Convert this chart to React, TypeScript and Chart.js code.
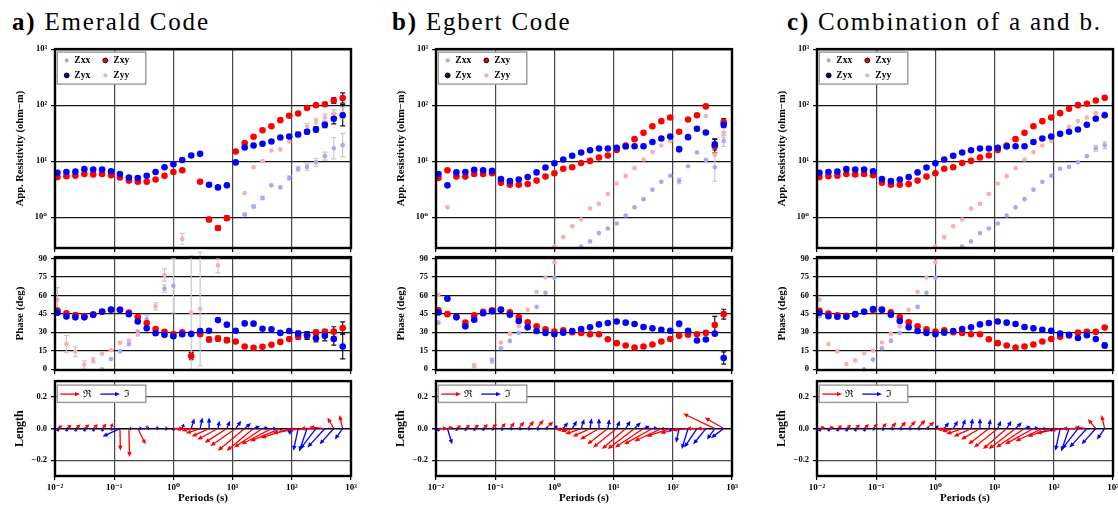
import React, { useEffect, useRef } from 'react';
import { Chart, registerables } from 'chart.js';

Chart.register(...registerables);

const N = null;

// ---------- categories / ticks ----------
const PERIODS = [0.011, 0.0156, 0.0221, 0.0313, 0.0442, 0.0625, 0.0884, 0.125, 0.177, 0.25, 0.354, 0.5, 0.707, 1, 1.41, 2, 2.83, 4, 5.66, 8, 11.3, 16, 22.6, 32, 45.3, 64, 90.5, 128, 181, 256, 362, 512, 724];
const PERIOD_TICKS = [0.01, 0.1, 1, 10, 100, 1000];
const PERIOD_TICK_LABELS = ['10⁻²', '10⁻¹', '10⁰', '10¹', '10²', '10³'];
const RHO_TICKS = [1, 10, 100, 1000];
const RHO_TICK_LABELS = ['10⁰', '10¹', '10²', '10³'];
const PHASE_TICKS = [0, 15, 30, 45, 60, 75, 90];
const PHASE_TICK_LABELS = ['0', '15', '30', '45', '60', '75', '90'];
const LENGTH_TICKS = [-0.2, 0, 0.2];
const LENGTH_TICK_LABELS = ['−0.2', '0.0', '0.2'];
const TITLE_PREFIX = ['a)', 'b)', 'c)'];
const TITLE_TEXT = ['Emerald Code', 'Egbert Code', 'Combination of a and b.'];

// ---------- panel a (Emerald) ----------
const A_RHO_YX = [6.2, 6.4, 6.5, 7.2, 7.1, 7.1, 6.6, 5.9, 5.1, 5.0, 5.5, 6.4, 7.8, 8.8, 10.5, 12.6, 13.5, 3.8, 3.4, 3.7, 9.5, 17.5, 19, 20.4, 22.5, 26.5, 27.5, 30, 33.5, 37, 44.5, 57, 66];
const A_RHO_XY = [5.2, 5.4, 5.5, 5.9, 5.8, 5.9, 5.6, 5.1, 4.5, 4.3, 4.3, 4.7, 5.5, 6.4, 6.9, N, 4.3, 0.91, 0.64, 0.96, 14.9, 21, 27.3, 35.7, 42, 54, 64.6, 71, 89, 100, 104, 121, 134];
const A_RHO_XX = [N, N, N, N, N, N, N, N, N, N, N, N, N, N, N, N, N, N, N, N, N, 1.12, 1.55, 2.2, 3.7, 3.4, 5.0, 7.3, 7.9, 9.6, 12.3, 17, 19.3];
const A_RHO_YY = [N, N, N, N, N, N, N, N, N, N, N, N, N, N, 0.41, N, N, N, N, N, N, 2.7, 7.8, 10, 15.5, 16.2, 22.5, 30, 41, 52, 60, 71, 72];
const A_RHO_ERR_YX = [N, N, N, N, N, N, N, N, N, N, N, N, N, N, N, N, N, N, N, N, N, N, N, N, N, N, N, 0.03, 0.04, 0.05, 0.05, 0.09, 0.19];
const A_RHO_ERR_XY = [N, N, N, N, N, N, N, N, N, N, N, N, N, N, N, N, N, 0.04, 0.04, 0.04, N, N, N, N, N, N, N, N, N, 0.02, 0.03, 0.05, 0.09];
const A_RHO_ERR_XX = [N, N, N, N, N, N, N, N, N, N, N, N, N, N, N, N, N, N, N, N, N, 0.02, 0.03, 0.03, N, N, 0.04, 0.04, 0.06, 0.07, 0.07, 0.19, 0.21];
const A_RHO_ERR_YY = [N, N, N, N, N, N, N, N, N, N, N, N, N, N, 0.1, N, N, N, N, N, N, N, N, N, N, N, N, 0.05, 0.06, 0.05, 0.06, 0.07, 0.1];
const A_PHI_XY = [47.7, 45.5, 43.9, 43.1, 44.5, 46.5, 48.2, 48.2, 46.1, 42.3, 37.5, 32.7, 30.3, 28.5, 30.0, 10.7, 28.4, 24.1, 24.9, 23.6, 22.5, 18.5, 17.4, 18.2, 19.8, 22.2, 24.6, 26.3, 27.3, 29.7, 30.3, 30.5, 33.5];
const A_PHI_YX = [45.8, 42.9, 42.1, 42.1, 44.2, 46.9, 48.5, 48.2, 44.7, 38.8, 33.2, 29.2, 27.9, 26.8, 28.4, 28.7, 31.1, 31.3, 39.9, 36.2, 31.3, 37.2, 37.0, 32.9, 32.4, 29.5, 31.1, 28.9, 27.6, 25.2, 27.1, 24.6, 18.5];
const A_PHI_XX = [N, N, N, N, N, 0, 8.3, 14.5, 20.4, 30.5, 40.7, N, 65.4, 67.8, N, N, N, N, N, N, N, N, N, N, N, N, N, N, N, N, N, N, N];
const A_PHI_YY = [56.3, 20.4, 14.2, 3.8, 7.2, 12.6, 15.5, 21.4, 23.3, 28, N, 51, 76.5, N, N, 46, 49, N, 84.4, N, N, N, N, N, N, N, N, N, N, N, N, N, N];
const A_PHI_ERR_YX = [N, N, N, N, N, N, N, N, N, N, N, N, N, N, N, N, N, N, N, N, N, N, N, N, N, N, N, 2, 3, 3, 4, 5, 10];
const A_PHI_ERR_XY = [N, N, N, N, N, N, N, N, N, N, N, N, N, N, N, 3, N, 2, 2, 2, N, N, N, N, N, N, N, 2, 3, 2, 2, 4, 5];
const A_PHI_ERR_XX = [N, N, N, N, N, N, N, N, N, N, 3, N, 3, 22, N, N, N, N, N, N, N, N, N, N, N, N, N, N, N, N, N, N, N];
const A_PHI_ERR_YY = [10, 7, 4, 3, 2, N, N, N, N, N, N, 3, 5, N, N, 46, 46, N, 6, N, N, N, N, N, N, N, N, N, N, N, N, N, N];
const A_TRE_X = [0.032, 0.032, 0.032, 0.032, 0.03, 0.028, 0.01, 0.003, 0.004, 0.05, 0.004, 0.02, 0.02, 0.07, -0.03, -0.06, -0.09, -0.11, -0.13, -0.14, -0.16, -0.17, -0.17, -0.18, -0.19, -0.19, -0.18, -0.16, -0.12, -0.1, -0.1, -0.04, -0.02];
const A_TRE_Y = [0.02, 0.022, 0.024, 0.025, 0.027, 0.03, 0.035, -0.14, -0.18, -0.1, 0.02, 0.01, 0.005, 0, -0.01, -0.015, -0.03, -0.05, -0.07, -0.09, -0.11, -0.14, -0.14, -0.12, -0.1, -0.08, -0.06, -0.03, -0.01, 0, 0.01, 0.07, 0.085];
const A_TIM_X = [0.005, 0.005, 0.005, 0.005, 0.005, 0.005, 0.01, -0.11, 0.02, 0.03, 0.02, 0.02, 0.02, 0, 0.01, 0.02, 0.015, 0, 0.01, 0.02, 0.035, 0.04, 0.04, 0.035, 0.03, 0.01, 0.005, -0.03, -0.05, -0.1, -0.11, -0.09, -0.05];
const A_TIM_Y = [-0.02, -0.02, -0.02, -0.02, -0.02, -0.02, -0.01, -0.05, 0, 0, 0, 0, -0.005, -0.015, 0.03, 0.065, 0.07, 0.07, 0.05, 0.05, 0.05, 0.035, 0.015, 0.005, 0, -0.01, -0.04, -0.14, -0.145, -0.13, -0.12, -0.1, -0.07];

// ---------- panel b (Egbert) ----------
const B_RHO_YX = [5.9, 3.7, 6.3, 6.4, 7.0, 6.9, 6.7, 4.8, 4.4, 4.7, 5.2, 6.3, 7.7, 9.2, 10.7, 12.5, 14.3, 15.7, 16.8, 16.8, 17.3, 18.3, 18.5, 18.5, 22, 25.4, 27.6, 16.4, 26.8, 37.8, 32.5, 19.9, 44.6];
const B_RHO_XY = [5.0, 6.9, 5.3, 5.3, 5.9, 5.9, 6.1, 4.1, 3.8, 3.8, 3.9, 4.5, 5.3, 6.1, 7.3, 7.8, 9.3, 10.1, 11.6, 12.6, 15.9, 19, 24.7, 32, 42, 51.8, 60, 33.4, 55.5, 66, 95, 18.5, 50];
const B_RHO_XX = [N, N, N, N, N, N, N, N, N, N, N, N, N, N, N, N, 0.30, 0.37, 0.52, 0.63, 0.77, 1.07, 1.5, 2.1, 3.1, 4.3, 5.5, 4.45, 8.1, 14.3, 10.5, 7.8, 23];
const B_RHO_YY = [N, 1.5, N, N, N, N, N, N, N, N, N, N, N, 0.30, 0.44, 0.69, 0.91, 1.43, 1.73, 2.6, 4.0, 5.4, 7.5, 10.7, 14.5, 19, 23, 15, 28, N, 64, 13, 32];
const B_RHO_ERR_YX = [N, N, N, N, N, N, N, N, N, N, N, N, N, N, N, N, N, N, N, N, N, N, N, N, N, N, N, N, N, N, N, 0.1, 0.05];
const B_RHO_ERR_XY = [N, N, N, N, N, N, N, N, N, N, N, N, N, N, N, N, N, N, N, N, N, N, N, N, N, N, N, N, N, N, N, 0.12, 0.06];
const B_RHO_ERR_XX = [N, N, N, N, N, N, N, N, N, N, N, N, N, N, N, N, N, N, N, N, N, N, N, N, N, N, N, 0.05, N, N, N, 0.25, 0.1];
const B_RHO_ERR_YY = [N, N, N, N, N, N, N, N, N, N, N, N, N, N, N, N, N, N, N, N, N, N, N, N, N, N, N, N, N, N, N, N, 0.08];
const B_PHI_XY = [47.9, 44.7, 42.6, 37.8, 43.7, 46.6, 47.9, 48.5, 46.3, 42.3, 38.0, 34.8, 32.4, 30.5, 31.6, 30.0, 29.5, 28.4, 28.4, 24.4, 21.2, 19.3, 17.7, 18.5, 20.1, 22.5, 24.6, 27.1, 28.1, 28.4, 29.5, 35.9, 44.7];
const B_PHI_YX = [46.1, 57.3, 42.1, 34.8, 40.2, 45.5, 47.1, 48.2, 44.2, 39.1, 34.0, 31.1, 29.5, 28.4, 29.7, 31.1, 32.7, 34.0, 36.4, 37.5, 38.8, 37.8, 36.7, 34.3, 33.2, 32.1, 31.3, 37.0, 31.3, 23.3, 24.1, 28.9, 9.1];
const B_PHI_XX = [37.8, N, N, N, N, N, 7, 17.1, 23.0, 29.5, N, 50.6, 62.1, 74.2, N, N, N, N, N, N, N, N, N, N, N, N, N, 35, N, N, N, N, N];
const B_PHI_YY = [60.5, N, N, N, 2.9, N, N, 21.7, 28.9, 34.8, 48.2, 62.7, 74.5, 86.8, N, N, N, N, N, N, N, N, N, N, N, N, N, 35, N, N, N, N, N];
const B_PHI_ERR_YX = [N, N, N, N, N, N, N, N, N, N, N, N, N, N, N, N, N, N, N, N, N, N, N, N, N, N, N, N, N, N, N, N, 5];
const B_PHI_ERR_XY = [N, N, N, N, N, N, N, N, N, N, N, N, N, N, N, N, N, N, N, N, N, N, N, N, N, N, N, N, N, N, N, 7, 4];
const B_PHI_ERR_XX = [N, N, N, N, N, N, 2, N, N, N, N, N, N, N, N, N, N, N, N, N, N, N, N, N, N, N, N, N, N, N, N, N, N];
const B_PHI_ERR_YY = [N, N, N, N, 1.5, N, N, N, N, N, N, N, N, N, N, N, N, N, N, N, N, N, N, N, N, N, N, N, N, N, N, N, N];
const B_TRE_X = [0.06, 0.035, 0.03, 0.03, 0.03, 0.03, 0.03, 0.03, 0.03, 0.035, 0.04, 0.045, 0.05, 0.08, -0.04, -0.07, -0.1, -0.11, -0.12, -0.13, -0.15, -0.15, -0.17, -0.18, -0.18, -0.17, -0.15, -0.12, -0.1, -0.07, -0.06, -0.2, -0.12];
const B_TRE_Y = [0, 0.01, 0.02, 0.022, 0.024, 0.027, 0.03, 0.035, 0.04, 0.045, 0.05, 0.055, 0.045, -0.01, -0.01, -0.02, -0.035, -0.05, -0.07, -0.1, -0.12, -0.13, -0.13, -0.12, -0.1, -0.08, -0.05, -0.03, -0.01, 0, 0, 0.095, 0.07];
const B_TIM_X = [0, 0.03, 0.005, 0.005, 0.005, 0.005, 0.01, 0.015, 0.02, 0.02, 0.02, 0.02, 0.02, 0.02, 0.03, 0.03, 0.02, 0.01, 0, 0.01, 0.02, 0.03, 0.04, 0.04, 0.03, 0.02, 0.005, -0.02, -0.04, -0.08, -0.08, -0.05, -0.08];
const B_TIM_Y = [-0.02, -0.1, -0.015, -0.015, -0.015, -0.015, -0.01, -0.01, -0.005, -0.005, -0.005, -0.005, 0, 0.02, 0.04, 0.05, 0.06, 0.065, 0.065, 0.06, 0.05, 0.05, 0.04, 0.015, 0.005, 0, -0.02, -0.09, -0.13, -0.12, -0.1, -0.07, -0.06];

// ---------- panel c (combination) ----------
const C_RHO_YX = [6.2, 6.4, 6.5, 7.2, 7.1, 7.1, 6.6, 4.8, 4.4, 4.7, 5.2, 6.3, 7.7, 9.2, 10.7, 12.5, 14.3, 15.7, 16.8, 16.8, 17.3, 18.3, 18.5, 18.5, 22, 25.4, 27.6, 30.7, 33.4, 36.8, 44.6, 57, 66];
const C_RHO_XY = [5.2, 5.4, 5.5, 5.9, 5.8, 5.9, 5.6, 4.1, 3.8, 3.8, 3.9, 4.5, 5.3, 6.1, 7.3, 7.8, 9.3, 10.1, 11.6, 12.6, 15.9, 19, 24.7, 32, 42, 51.8, 60, 72, 86, 100, 106, 121, 135];
const C_RHO_XX = [N, N, N, N, N, N, N, N, N, N, N, N, N, N, N, N, 0.30, 0.37, 0.52, 0.63, 0.77, 1.07, 1.5, 2.1, 3.1, 4.3, 5.5, 7.3, 7.9, 9.6, 12.3, 17, 19.3];
const C_RHO_YY = [N, N, N, N, N, N, N, N, N, N, N, N, N, 0.30, 0.44, 0.69, 0.91, 1.43, 1.73, 2.6, 4.0, 5.4, 7.5, 10.7, 14.5, 19, 23, 30, 41, 52, 60, 72, 72];
const C_RHO_ERR_XX = [N, N, N, N, N, N, N, N, N, N, N, N, N, N, N, N, N, N, N, N, N, N, N, N, N, N, N, N, N, N, N, 0.05, 0.06];
const C_PHI_XY = [47.4, 45.3, 43.7, 43.4, 44.5, 46.6, 48.0, 48.5, 46.3, 42.3, 38.0, 34.8, 32.4, 30.5, 31.6, 30.0, 29.5, 28.4, 28.4, 24.4, 21.2, 19.3, 17.7, 18.5, 20.1, 22.5, 24.6, 26.3, 27.3, 29.7, 30.3, 30.3, 33.8];
const C_PHI_YX = [45.8, 43.1, 42.6, 42.6, 44.7, 46.6, 48.8, 48.2, 44.2, 39.1, 34.0, 31.1, 29.5, 28.4, 29.7, 31.1, 32.7, 34.0, 36.4, 37.5, 38.8, 37.8, 36.7, 34.3, 33.2, 32.1, 31.3, 28.9, 27.9, 25.4, 27.6, 24.6, 19.3];
const C_PHI_XX = [43, N, N, N, N, 0, 7.8, 17.1, 23, 29.5, N, 50.6, 62.1, 74.2, N, N, N, N, N, N, N, N, N, N, N, N, N, N, N, N, N, N, N];
const C_PHI_YY = [56.5, 20.4, 14.5, 4.3, 7.2, 13.1, 15, 21.7, 28.9, 34.8, 48.2, 62.7, 74.5, 86.8, N, N, N, N, N, N, N, N, N, N, N, N, N, N, N, N, N, N, N];
const C_PHI_ERR_YX = [N, N, N, N, N, N, N, N, N, N, N, N, N, N, N, N, N, N, N, N, N, N, N, N, N, N, N, N, N, N, N, N, 2];
const C_TRE_X = [0.035, 0.035, 0.03, 0.03, 0.03, 0.03, 0.03, 0.03, 0.035, 0.04, 0.045, 0.05, 0.05, 0.08, -0.04, -0.07, -0.1, -0.11, -0.12, -0.13, -0.15, -0.15, -0.17, -0.18, -0.18, -0.17, -0.15, -0.15, -0.12, -0.1, -0.08, -0.05, -0.02];
const C_TRE_Y = [0.01, 0.01, 0.02, 0.022, 0.024, 0.027, 0.03, 0.035, 0.04, 0.045, 0.05, 0.055, 0.045, -0.01, -0.01, -0.02, -0.035, -0.05, -0.07, -0.1, -0.12, -0.13, -0.13, -0.12, -0.1, -0.08, -0.05, -0.03, -0.01, 0, 0.01, 0.06, 0.085];
const C_TIM_X = [0.005, 0.005, 0.005, 0.005, 0.005, 0.005, 0.01, 0.015, 0.02, 0.02, 0.02, 0.02, 0.02, 0.02, 0.03, 0.03, 0.02, 0.01, 0, 0.01, 0.02, 0.03, 0.04, 0.04, 0.03, 0.02, 0.005, -0.03, -0.05, -0.1, -0.11, -0.09, -0.05];
const C_TIM_Y = [-0.02, -0.02, -0.02, -0.02, -0.02, -0.02, -0.01, -0.01, -0.005, -0.005, -0.005, -0.005, 0, 0.02, 0.04, 0.05, 0.06, 0.065, 0.065, 0.06, 0.05, 0.05, 0.04, 0.015, 0.005, 0, -0.02, -0.14, -0.145, -0.13, -0.12, -0.1, -0.07];

// ---------- layout / style ----------
const SERIF = "'Liberation Serif', 'DejaVu Serif', serif";
const COL_LEFT = [55, 436, 817];
const TITLE_X = [12, 392, 787];
const PLOT_W = 296;
const AXIS_W = 55;
const PAD_T = 8;
const PAD_R = 12;
const ROWS: any = {
  rho: { top: 48, h: 200, xh: 10 },
  phi: { top: 256, h: 114, xh: 10 },
  tip: { top: 380, h: 96, xh: 30 },
};
const COL = { xx: '#a6a6ff', xy: '#ff0000', yx: '#0000ff', yy: '#ffacac' };

const PANELS = [
  {
    rho: { xx: A_RHO_XX, xy: A_RHO_XY, yx: A_RHO_YX, yy: A_RHO_YY },
    rhoErr: { xx: A_RHO_ERR_XX, xy: A_RHO_ERR_XY, yx: A_RHO_ERR_YX, yy: A_RHO_ERR_YY },
    phi: { xx: A_PHI_XX, xy: A_PHI_XY, yx: A_PHI_YX, yy: A_PHI_YY },
    phiErr: { xx: A_PHI_ERR_XX, xy: A_PHI_ERR_XY, yx: A_PHI_ERR_YX, yy: A_PHI_ERR_YY },
    tip: { rx: A_TRE_X, ry: A_TRE_Y, ix: A_TIM_X, iy: A_TIM_Y },
  },
  {
    rho: { xx: B_RHO_XX, xy: B_RHO_XY, yx: B_RHO_YX, yy: B_RHO_YY },
    rhoErr: { xx: B_RHO_ERR_XX, xy: B_RHO_ERR_XY, yx: B_RHO_ERR_YX, yy: B_RHO_ERR_YY },
    phi: { xx: B_PHI_XX, xy: B_PHI_XY, yx: B_PHI_YX, yy: B_PHI_YY },
    phiErr: { xx: B_PHI_ERR_XX, xy: B_PHI_ERR_XY, yx: B_PHI_ERR_YX, yy: B_PHI_ERR_YY },
    tip: { rx: B_TRE_X, ry: B_TRE_Y, ix: B_TIM_X, iy: B_TIM_Y },
  },
  {
    rho: { xx: C_RHO_XX, xy: C_RHO_XY, yx: C_RHO_YX, yy: C_RHO_YY },
    rhoErr: { xx: C_RHO_ERR_XX, xy: undefined, yx: undefined, yy: undefined },
    phi: { xx: C_PHI_XX, xy: C_PHI_XY, yx: C_PHI_YX, yy: C_PHI_YY },
    phiErr: { xx: undefined, xy: undefined, yx: C_PHI_ERR_YX, yy: undefined },
    tip: { rx: C_TRE_X, ry: C_TRE_Y, ix: C_TIM_X, iy: C_TIM_Y },
  },
];

function pts(vals: (number | null)[]) {
  return PERIODS.map((p, i) => ({ x: p, y: vals[i] }));
}

function drawArrow(ctx: CanvasRenderingContext2D, x0: number, y0: number, x1: number, y1: number, color: string) {
  const len = Math.hypot(x1 - x0, y1 - y0);
  if (len < 0.5) return;
  const c = (x1 - x0) / len;
  const s = (y1 - y0) / len;
  const hl = Math.min(5, len * 0.6);
  const hw = 2.2;
  ctx.strokeStyle = color;
  ctx.fillStyle = color;
  ctx.lineWidth = 1.3;
  ctx.beginPath();
  ctx.moveTo(x0, y0);
  ctx.lineTo(x1 - c * hl * 0.8, y1 - s * hl * 0.8);
  ctx.stroke();
  ctx.beginPath();
  ctx.moveTo(x1, y1);
  ctx.lineTo(x1 - c * hl - s * hw, y1 - s * hl + c * hw);
  ctx.lineTo(x1 - c * hl + s * hw, y1 - s * hl - c * hw);
  ctx.closePath();
  ctx.fill();
}

function dot(ctx: CanvasRenderingContext2D, x: number, y: number, r: number, fill: string, stroke?: string) {
  ctx.beginPath();
  ctx.arc(x, y, r, 0, Math.PI * 2);
  ctx.fillStyle = fill;
  ctx.fill();
  if (stroke) {
    ctx.lineWidth = 1;
    ctx.strokeStyle = stroke;
    ctx.stroke();
  }
}

const framePlugin = {
  id: 'frame',
  beforeDatasetsDraw(chart: any) {
    const { ctx } = chart;
    const x = chart.scales.x;
    const y = chart.scales.y;
    chart.data.datasets.forEach((ds: any) => {
      if (!ds.errs) return;
      ctx.save();
      ctx.strokeStyle = ds.errColor;
      ctx.lineWidth = 1.2;
      ds.data.forEach((pt: any, i: number) => {
        const e = ds.errs[i];
        if (pt.y == null || e == null) return;
        const px = x.getPixelForValue(pt.x);
        const lo = ds.errLog ? pt.y / Math.pow(10, e) : pt.y - e;
        const hi = ds.errLog ? pt.y * Math.pow(10, e) : pt.y + e;
        const y1 = y.getPixelForValue(lo);
        const y2 = y.getPixelForValue(hi);
        ctx.beginPath();
        ctx.moveTo(px, y1); ctx.lineTo(px, y2);
        ctx.moveTo(px - 2.5, y1); ctx.lineTo(px + 2.5, y1);
        ctx.moveTo(px - 2.5, y2); ctx.lineTo(px + 2.5, y2);
        ctx.stroke();
      });
      ctx.restore();
    });
  },
  afterDatasetsDraw(chart: any) {
    const { ctx } = chart;
    const x = chart.scales.x;
    const y = chart.scales.y;
    const ppu = y.getPixelForValue(0) - y.getPixelForValue(1);
    chart.data.datasets.forEach((ds: any) => {
      if (!ds.vx) return;
      ctx.save();
      ds.data.forEach((pt: any, i: number) => {
        const x0 = x.getPixelForValue(pt.x);
        const y0 = y.getPixelForValue(pt.y);
        const x1 = x0 + ds.vx[i] * ppu;
        const y1 = y.getPixelForValue(pt.y + ds.vy[i]);
        drawArrow(ctx, x0, y0, x1, y1, ds.arrowColor);
      });
      ctx.restore();
    });
  },
  afterDraw(chart: any) {
    const { ctx, chartArea: a } = chart;
    const o = chart.options.plugins.frame || {};
    ctx.save();
    ctx.strokeStyle = '#000';
    ctx.lineWidth = 2.4;
    ctx.strokeRect(a.left, a.top, a.right - a.left, a.bottom - a.top);
    if (o.legend === 'mt') {
      const bx = a.left + 2.3, by = a.top + 3;
      ctx.fillStyle = '#fff';
      ctx.fillRect(bx, by, 88.5, 32);
      ctx.strokeStyle = '#9a9a9a';
      ctx.lineWidth = 1.4;
      ctx.strokeRect(bx, by, 88.5, 32);
      ctx.font = `bold 9.5px ${SERIF}`;
      ctx.textBaseline = 'middle';
      ctx.textAlign = 'left';
      dot(ctx, bx + 9.4, by + 8.3, 2.1, COL.xx);
      dot(ctx, bx + 48, by + 8.3, 2.4, COL.xy, '#000');
      dot(ctx, bx + 9.4, by + 23.3, 2.4, '#0000a0', '#000');
      dot(ctx, bx + 48, by + 23.3, 2.1, COL.yy);
      ctx.fillStyle = '#000';
      ctx.fillText('Zxx', bx + 17, by + 8.8);
      ctx.fillText('Zxy', bx + 56, by + 8.8);
      ctx.fillText('Zyx', bx + 17, by + 23.8);
      ctx.fillText('Zyy', bx + 56, by + 23.8);
    } else if (o.legend === 'tip') {
      const bx = a.left + 2.3, by = a.top + 4;
      ctx.fillStyle = '#fff';
      ctx.fillRect(bx, by, 88.5, 17.3);
      ctx.strokeStyle = '#9a9a9a';
      ctx.lineWidth = 1.4;
      ctx.strokeRect(bx, by, 88.5, 17.3);
      drawArrow(ctx, bx + 3, by + 9, bx + 22.7, by + 9, '#ff0000');
      drawArrow(ctx, bx + 43, by + 9, bx + 62.7, by + 9, '#0000ff');
      ctx.fillStyle = '#000';
      ctx.font = `10px 'DejaVu Serif', serif`;
      ctx.textBaseline = 'middle';
      ctx.textAlign = 'left';
      ctx.fillText('ℜ', bx + 26, by + 9.5);
      ctx.fillText('ℑ', bx + 67, by + 9.5);
    }
    if (o.yTitle) {
      ctx.save();
      ctx.translate(a.left - 35, (a.top + a.bottom) / 2);
      ctx.rotate(-Math.PI / 2);
      ctx.fillStyle = '#000';
      ctx.font = o.yTitleFont;
      ctx.textAlign = 'center';
      ctx.textBaseline = 'middle';
      ctx.fillText(o.yTitle, 0, 0);
      ctx.restore();
    }
    if (o.xTitle) {
      ctx.fillStyle = '#000';
      ctx.font = `bold 11px ${SERIF}`;
      ctx.textAlign = 'center';
      ctx.textBaseline = 'middle';
      ctx.fillText(o.xTitle, (a.left + a.right) / 2, a.bottom + 22.3);
    }
    ctx.restore();
  },
};

const tickFont = { family: SERIF, size: 8.5, weight: 'bold' as const };

function xAxis(showLabels: boolean, xh: number) {
  return {
    type: 'logarithmic',
    position: 'bottom',
    min: 0.01,
    max: 1000,
    afterBuildTicks: (s: any) => { s.ticks = PERIOD_TICKS.map((v) => ({ value: v })); },
    afterFit: (s: any) => { s.height = xh; },
    ticks: {
      display: showLabels,
      autoSkip: false,
      maxRotation: 0,
      padding: 2,
      color: '#000',
      font: { family: SERIF, size: 9, weight: 'bold' as const },
      callback: (_v: any, i: number) => PERIOD_TICK_LABELS[i],
    },
    grid: { color: '#474747', lineWidth: 1.2, drawTicks: true, tickLength: 4, tickColor: '#000' },
    border: { display: false },
  };
}

function yAxisBase() {
  return {
    afterFit: (s: any) => { s.width = AXIS_W; },
    border: { display: false },
  };
}

function mtDatasets(v: any, e: any, errLog: boolean) {
  return [
    { label: 'Zyx', data: pts(v.yx), pointRadius: 3.3, backgroundColor: COL.yx, borderColor: COL.yx, borderWidth: 0, errs: e.yx, errLog, errColor: '#151515' },
    { label: 'Zxy', data: pts(v.xy), pointRadius: 3.3, backgroundColor: COL.xy, borderColor: COL.xy, borderWidth: 0, errs: e.xy, errLog, errColor: '#151515' },
    { label: 'Zyy', data: pts(v.yy), pointRadius: 2.3, backgroundColor: COL.yy, borderColor: COL.yy, borderWidth: 0, errs: e.yy, errLog, errColor: '#c9c9c9' },
    { label: 'Zxx', data: pts(v.xx), pointRadius: 2.3, backgroundColor: COL.xx, borderColor: COL.xx, borderWidth: 0, errs: e.xx, errLog, errColor: '#c9c9c9' },
  ].map((d) => ({ ...d, showLine: false, clip: false, pointHoverRadius: 0 }));
}

function baseOptions() {
  return {
    responsive: false,
    animation: false,
    devicePixelRatio: 1,
    events: [],
    layout: { padding: { left: 0, top: PAD_T, right: PAD_R, bottom: 0 } },
    plugins: { legend: { display: false }, tooltip: { enabled: false } },
  } as any;
}

function makeConfig(kind: string, p: number) {
  const panel = PANELS[p];
  const row = ROWS[kind];
  const opts = baseOptions();
  if (kind === 'rho') {
    opts.scales = {
      x: xAxis(false, row.xh),
      y: {
        ...yAxisBase(),
        type: 'logarithmic',
        min: 0.282,
        max: 1000,
        afterBuildTicks: (s: any) => { s.ticks = RHO_TICKS.map((v) => ({ value: v })); },
        ticks: { padding: 4, color: '#000', font: tickFont, callback: (_v: any, i: number) => RHO_TICK_LABELS[i] },
        grid: { color: '#151515', lineWidth: 1.2, tickLength: 4, tickColor: '#000' },
      },
    };
    opts.plugins.frame = { legend: 'mt', yTitle: 'App. Resistivity (ohm−m)', yTitleFont: `bold 10.5px ${SERIF}` };
    return { type: 'scatter', data: { datasets: mtDatasets(panel.rho, panel.rhoErr, true) }, options: opts, plugins: [framePlugin] };
  }
  if (kind === 'phi') {
    opts.scales = {
      x: xAxis(false, row.xh),
      y: {
        ...yAxisBase(),
        type: 'linear',
        min: -0.6,
        max: 91,
        afterBuildTicks: (s: any) => { s.ticks = PHASE_TICKS.map((v) => ({ value: v })); },
        ticks: { padding: 4, color: '#000', font: tickFont, callback: (_v: any, i: number) => PHASE_TICK_LABELS[i] },
        grid: { color: '#151515', lineWidth: 1.2, tickLength: 4, tickColor: '#000' },
      },
    };
    opts.plugins.frame = { yTitle: 'Phase (deg)', yTitleFont: `bold 11px ${SERIF}` };
    return { type: 'scatter', data: { datasets: mtDatasets(panel.phi, panel.phiErr, false) }, options: opts, plugins: [framePlugin] };
  }
  opts.scales = {
    x: xAxis(true, row.xh),
    y: {
      ...yAxisBase(),
      type: 'linear',
      min: -0.3,
      max: 0.3,
      afterBuildTicks: (s: any) => { s.ticks = LENGTH_TICKS.map((v) => ({ value: v })); },
      ticks: { padding: 4, color: '#000', font: tickFont, callback: (_v: any, i: number) => LENGTH_TICK_LABELS[i] },
      grid: {
        color: (c: any) => (c.tick && c.tick.value === 0 ? '#000' : '#474747'),
        lineWidth: (c: any) => (c.tick && c.tick.value === 0 ? 1.5 : 1.2),
        tickLength: 4,
        tickColor: '#000',
      },
    },
  };
  opts.plugins.frame = { legend: 'tip', yTitle: 'Length', yTitleFont: `bold 12px ${SERIF}`, xTitle: 'Periods (s)' };
  const zeros = PERIODS.map((p) => ({ x: p, y: 0 }));
  return {
    type: 'scatter',
    data: {
      datasets: [
        { label: 'Re', data: zeros, pointRadius: 0, showLine: false, vx: panel.tip.rx, vy: panel.tip.ry, arrowColor: '#ff0000' },
        { label: 'Im', data: zeros, pointRadius: 0, showLine: false, vx: panel.tip.ix, vy: panel.tip.iy, arrowColor: '#0000ff' },
      ],
    },
    options: opts,
    plugins: [framePlugin],
  };
}

function ChartBox({ kind, panel }: { kind: string; panel: number }) {
  const ref = useRef<HTMLCanvasElement | null>(null);
  const row = ROWS[kind];
  const w = AXIS_W + PLOT_W + PAD_R;
  const h = PAD_T + row.h + row.xh;
  const left = COL_LEFT[panel] - AXIS_W;
  const top = row.top - PAD_T;
  useEffect(() => {
    const chart = new Chart(ref.current as HTMLCanvasElement, makeConfig(kind, panel) as any);
    return () => chart.destroy();
  }, [kind, panel]);
  return (
    <canvas
      ref={ref}
      width={w}
      height={h}
      style={{ position: 'absolute', left, top, width: w, height: h }}
    />
  );
}

export default function App() {
  useEffect(() => {
    document.body.style.margin = '0';
  }, []);
  return (
    <div style={{ position: 'relative', width: 1118, height: 506, background: '#fff', overflow: 'hidden' }}>
      {TITLE_TEXT.map((t, i) => (
        <div
          key={'t' + i}
          style={{
            position: 'absolute',
            left: TITLE_X[i],
            top: 8.6,
            fontFamily: '"Liberation Serif", serif',
            fontSize: 25,
            lineHeight: '25px',
            letterSpacing: '1.8px',
            whiteSpace: 'nowrap',
            color: '#000',
          }}
        >
          <b>{TITLE_PREFIX[i]}</b> {t}
        </div>
      ))}
      {[0, 1, 2].map((p) => (
        <React.Fragment key={'p' + p}>
          <ChartBox kind="rho" panel={p} />
          <ChartBox kind="phi" panel={p} />
          <ChartBox kind="tip" panel={p} />
        </React.Fragment>
      ))}
    </div>
  );
}
